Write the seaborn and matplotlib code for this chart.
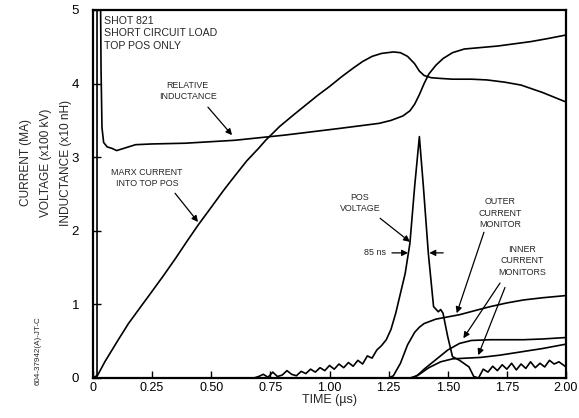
import numpy as np
import pandas as pd
import matplotlib
matplotlib.use("Agg")
import matplotlib.pyplot as plt
import seaborn as sns

# ---------------- data ----------------
ind_t = [0.017, 0.017, 0.032, 0.034, 0.038, 0.045, 0.06, 0.08, 0.10, 0.13, 0.18, 0.25,
         0.39, 0.60, 0.81, 1.04, 1.21, 1.26, 1.31, 1.34, 1.36, 1.38, 1.40, 1.42, 1.45,
         1.48, 1.52, 1.57, 1.64, 1.71, 1.78, 1.85, 1.92, 2.0]
ind_v = [0.0, 5.1, 5.1, 4.2, 3.4, 3.2, 3.14, 3.12, 3.09, 3.12, 3.17, 3.18,
         3.19, 3.23, 3.30, 3.39, 3.46, 3.50, 3.56, 3.63, 3.72, 3.85, 4.00, 4.13, 4.25,
         4.34, 4.42, 4.47, 4.49, 4.51, 4.54, 4.57, 4.61, 4.66]

marx_t = [0.0, 0.02, 0.05, 0.107, 0.15, 0.20, 0.248, 0.30, 0.35, 0.40, 0.445, 0.50,
          0.55, 0.586, 0.65, 0.70, 0.73, 0.79, 0.85, 0.90, 0.95, 1.00, 1.05, 1.10,
          1.14, 1.18, 1.22, 1.27, 1.30, 1.33, 1.36, 1.38, 1.40, 1.43, 1.47, 1.52,
          1.60, 1.665, 1.74, 1.81, 1.9, 2.0]
marx_v = [0.0, 0.04, 0.22, 0.52, 0.74, 0.96, 1.17, 1.40, 1.63, 1.87, 2.08, 2.32,
          2.54, 2.69, 2.95, 3.12, 3.23, 3.42, 3.58, 3.71, 3.84, 3.96, 4.09, 4.21,
          4.30, 4.37, 4.41, 4.43, 4.42, 4.37, 4.27, 4.17, 4.11, 4.08, 4.07, 4.06,
          4.06, 4.05, 4.02, 3.98, 3.88, 3.75]

volt_t = [0.0, 0.68, 0.70, 0.72, 0.74, 0.76, 0.78, 0.80, 0.82, 0.84, 0.86, 0.88, 0.90,
          0.92, 0.94, 0.96, 0.98, 1.00, 1.02, 1.04, 1.06, 1.08, 1.10, 1.12, 1.14, 1.16,
          1.18, 1.20, 1.22, 1.24, 1.26, 1.28, 1.30, 1.32, 1.34, 1.36, 1.38, 1.397, 1.418,
          1.44, 1.46, 1.47, 1.48, 1.50, 1.52, 1.55, 1.59, 1.61, 1.63, 1.65, 1.67, 1.69,
          1.71, 1.73, 1.75, 1.77, 1.79, 1.81, 1.83, 1.85, 1.87, 1.89, 1.91, 1.93, 1.95,
          1.97, 2.00]
volt_v = [0.0, 0.0, 0.02, 0.05, 0.01, 0.08, 0.02, 0.04, 0.10, 0.05, 0.03, 0.09, 0.06,
          0.12, 0.08, 0.14, 0.10, 0.17, 0.12, 0.19, 0.14, 0.21, 0.16, 0.24, 0.19, 0.30,
          0.27, 0.38, 0.44, 0.52, 0.66, 0.88, 1.15, 1.42, 1.83, 2.60, 3.28, 2.60, 1.69,
          0.97, 0.90, 0.93, 0.88, 0.56, 0.29, 0.24, 0.15, 0.02, 0.0, 0.12, 0.08, 0.16,
          0.10, 0.18, 0.12, 0.20, 0.11, 0.19, 0.13, 0.22, 0.14, 0.20, 0.15, 0.24, 0.19,
          0.22, 0.15]

outer_t = [1.25, 1.27, 1.30, 1.33, 1.36, 1.38, 1.40, 1.45, 1.50, 1.55, 1.62, 1.68,
           1.75, 1.82, 1.90, 2.0]
outer_v = [0.0, 0.03, 0.20, 0.45, 0.62, 0.69, 0.74, 0.80, 0.83, 0.86, 0.92, 0.97,
           1.02, 1.06, 1.09, 1.12]

inner1_t = [1.34, 1.37, 1.40, 1.45, 1.50, 1.55, 1.60, 1.68, 1.82, 1.90, 2.0]
inner1_v = [0.0, 0.03, 0.12, 0.25, 0.38, 0.47, 0.51, 0.52, 0.52, 0.53, 0.55]

inner2_t = [1.35, 1.38, 1.42, 1.47, 1.52, 1.58, 1.64, 1.72, 1.82, 1.90, 2.0]
inner2_v = [0.0, 0.05, 0.14, 0.22, 0.26, 0.27, 0.28, 0.31, 0.36, 0.40, 0.46]

x_ticks = [0, 0.25, 0.50, 0.75, 1.00, 1.25, 1.50, 1.75, 2.00]
x_tick_labels = ["0", "0.25", "0.50", "0.75", "1.00", "1.25", "1.50", "1.75", "2.00"]
y_ticks = [0, 1, 2, 3, 4, 5]
y_tick_labels = ["0", "1", "2", "3", "4", "5"]

# ---------------- style ----------------
sns.set_theme(style="ticks")
plt.rcParams["font.family"] = ["Liberation Sans", "DejaVu Sans"]
plt.rcParams["axes.linewidth"] = 1.6

fig = plt.figure(figsize=(5.79, 4.18), dpi=100)
ax = fig.add_axes([93 / 579, 1 - 378 / 418, (566 - 93) / 579, (378 - 10) / 418])

series = [(ind_t, ind_v), (marx_t, marx_v), (volt_t, volt_v),
          (outer_t, outer_v), (inner1_t, inner1_v), (inner2_t, inner2_v)]
for t, v in series:
    df = pd.DataFrame({"t": t, "v": v})
    sns.lineplot(data=df, x="t", y="v", ax=ax, color="black", lw=1.2,
                 estimator=None, sort=False)

ax.set_xlim(0, 2.0)
ax.set_ylim(0, 5)
ax.set_xticks(x_ticks)
ax.set_xticklabels(x_tick_labels)
ax.set_yticks(y_ticks)
ax.set_yticklabels(y_tick_labels)
ax.tick_params(axis="x", direction="in", length=5, width=1.0, pad=3, labelsize=9,
               colors="black")
ax.tick_params(axis="y", direction="in", length=6, width=1.0, pad=10, labelsize=9.5,
               colors="black")
for s in ax.spines.values():
    s.set_color("black")
    s.set_linewidth(1.6)
ax.set_xlabel("")
ax.set_ylabel("")

# axis labels
fig.text(330 / 579, 1 - 400 / 418, "TIME (\u00b5s)", ha="center", va="center", fontsize=9)
ylab_lines = ["CURRENT (MA)", "VOLTAGE (x100 kV)", "INDUCTANCE (x10 nH)"]
for xp, txt in zip([26, 46, 66], ylab_lines):
    fig.text(xp / 579, 1 - 163 / 418, txt, rotation=90, ha="center", va="center",
             fontsize=8.6)
fig.text(38 / 579, 1 - 351 / 418, "604-37942(A)-JT-C", rotation=90, ha="center",
         va="center", fontsize=5.8)

# annotations
ax.text(0.047, 4.92, "SHOT 821\nSHORT CIRCUIT LOAD\nTOP POS ONLY", ha="left", va="top",
        fontsize=7.6, linespacing=1.3)

afs = 6.4
arrow = dict(arrowstyle="-|>", color="black", lw=0.9, mutation_scale=9,
             shrinkA=0, shrinkB=0)
ax.text(0.40, 3.90, "RELATIVE\nINDUCTANCE", ha="center", va="center", fontsize=afs,
        linespacing=1.35)
ax.annotate("", xy=(0.588, 3.30), xytext=(0.486, 3.68), arrowprops=arrow)

ax.text(0.228, 2.72, "MARX CURRENT\nINTO TOP POS", ha="center", va="center",
        fontsize=afs, linespacing=1.35)
ax.annotate("", xy=(0.444, 2.12), xytext=(0.347, 2.51), arrowprops=arrow)

ax.text(1.129, 2.38, "POS\nVOLTAGE", ha="center", va="center", fontsize=afs,
        linespacing=1.35)
ax.annotate("", xy=(1.340, 1.85), xytext=(1.214, 2.17), arrowprops=arrow)

ax.text(1.238, 1.70, "85 ns", ha="right", va="center", fontsize=afs)
ax.annotate("", xy=(1.332, 1.70), xytext=(1.264, 1.70), arrowprops=arrow)
ax.annotate("", xy=(1.422, 1.70), xytext=(1.481, 1.70), arrowprops=arrow)

ax.text(1.721, 2.24, "OUTER\nCURRENT\nMONITOR", ha="center", va="center", fontsize=afs,
        linespacing=1.35)
ax.annotate("", xy=(1.538, 0.88), xytext=(1.653, 1.98), arrowprops=arrow)

ax.text(1.814, 1.59, "INNER\nCURRENT\nMONITORS", ha="center", va="center",
        fontsize=afs, linespacing=1.35)
ax.annotate("", xy=(1.566, 0.54), xytext=(1.721, 1.29), arrowprops=arrow)
ax.annotate("", xy=(1.629, 0.31), xytext=(1.742, 1.23), arrowprops=arrow)

fig.savefig("out.png", dpi=100, facecolor="white")
